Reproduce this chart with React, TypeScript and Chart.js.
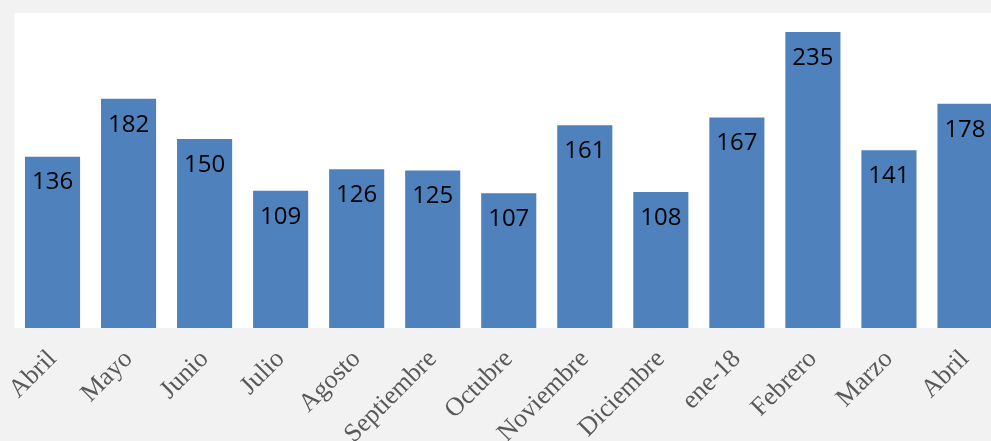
import React, { useEffect, useRef } from "react";
import { Chart, registerables } from "chart.js";

Chart.register(...registerables);

const categories = [
  "Abril", "Mayo", "Junio", "Julio", "Agosto", "Septiembre", "Octubre",
  "Noviembre", "Diciembre", "ene-18", "Febrero", "Marzo", "Abril",
];
const values = [136, 182, 150, 109, 126, 125, 107, 161, 108, 167, 235, 141, 178];

const plotBg = {
  id: "plotBg",
  beforeDraw(chart: any) {
    const { ctx, chartArea, width, height } = chart;
    ctx.save();
    ctx.fillStyle = "#f2f2f2";
    ctx.fillRect(0, 0, width, height);
    ctx.fillStyle = "#ffffff";
    ctx.fillRect(chartArea.left, chartArea.top, width - chartArea.left, chartArea.bottom - chartArea.top);
    ctx.restore();
  },
};

const barLabels = {
  id: "barLabels",
  afterDatasetsDraw(chart: any) {
    const { ctx } = chart;
    const meta = chart.getDatasetMeta(0);
    const data = chart.data.datasets[0].data as number[];
    ctx.save();
    ctx.font = '24px "Open Sans"';
    ctx.fillStyle = "#000000";
    ctx.textAlign = "center";
    ctx.textBaseline = "middle";
    meta.data.forEach((bar: any, i: number) => {
      ctx.fillText(String(data[i]), bar.x, bar.y + 26);
    });
    ctx.restore();
  },
};

export default function App() {
  const ref = useRef<HTMLCanvasElement>(null);
  useEffect(() => {
    if (!ref.current) return;
    const chart = new Chart(ref.current, {
      type: "bar",
      data: {
        labels: categories,
        datasets: [
          {
            data: values,
            backgroundColor: "#4f81bd",
            borderWidth: 0,
            categoryPercentage: 1,
            barPercentage: 0.7246,
          },
        ],
      },
      options: {
        responsive: false,
        animation: false,
        devicePixelRatio: 1,
        layout: { padding: { left: 14.5, top: 13, right: 0, bottom: 0 } },
        plugins: { legend: { display: false }, tooltip: { enabled: false } },
        scales: {
          x: {
            grid: { display: false, drawTicks: false },
            border: { display: false },
            ticks: {
              autoSkip: false,
              minRotation: 45,
              maxRotation: 45,
              padding: 16,
              color: "#595959",
              font: { family: '"Liberation Serif"', size: 26 },
            },
            afterFit: (scale: any) => {
              scale.height = 113;
              scale.paddingLeft = 0;
              scale.paddingRight = 0;
            },
          },
          y: {
            display: false,
            min: 0,
            max: 250,
          },
        },
      },
      plugins: [plotBg, barLabels],
    });
    return () => chart.destroy();
  }, []);
  return (
    <div
      style={{
        position: "absolute",
        left: 0,
        top: 0,
        width: 991,
        height: 441,
        overflow: "hidden",
        background: "#f2f2f2",
      }}
    >
      <canvas ref={ref} width={1003} height={441} style={{ width: 1003, height: 441, display: "block" }} />
    </div>
  );
}
